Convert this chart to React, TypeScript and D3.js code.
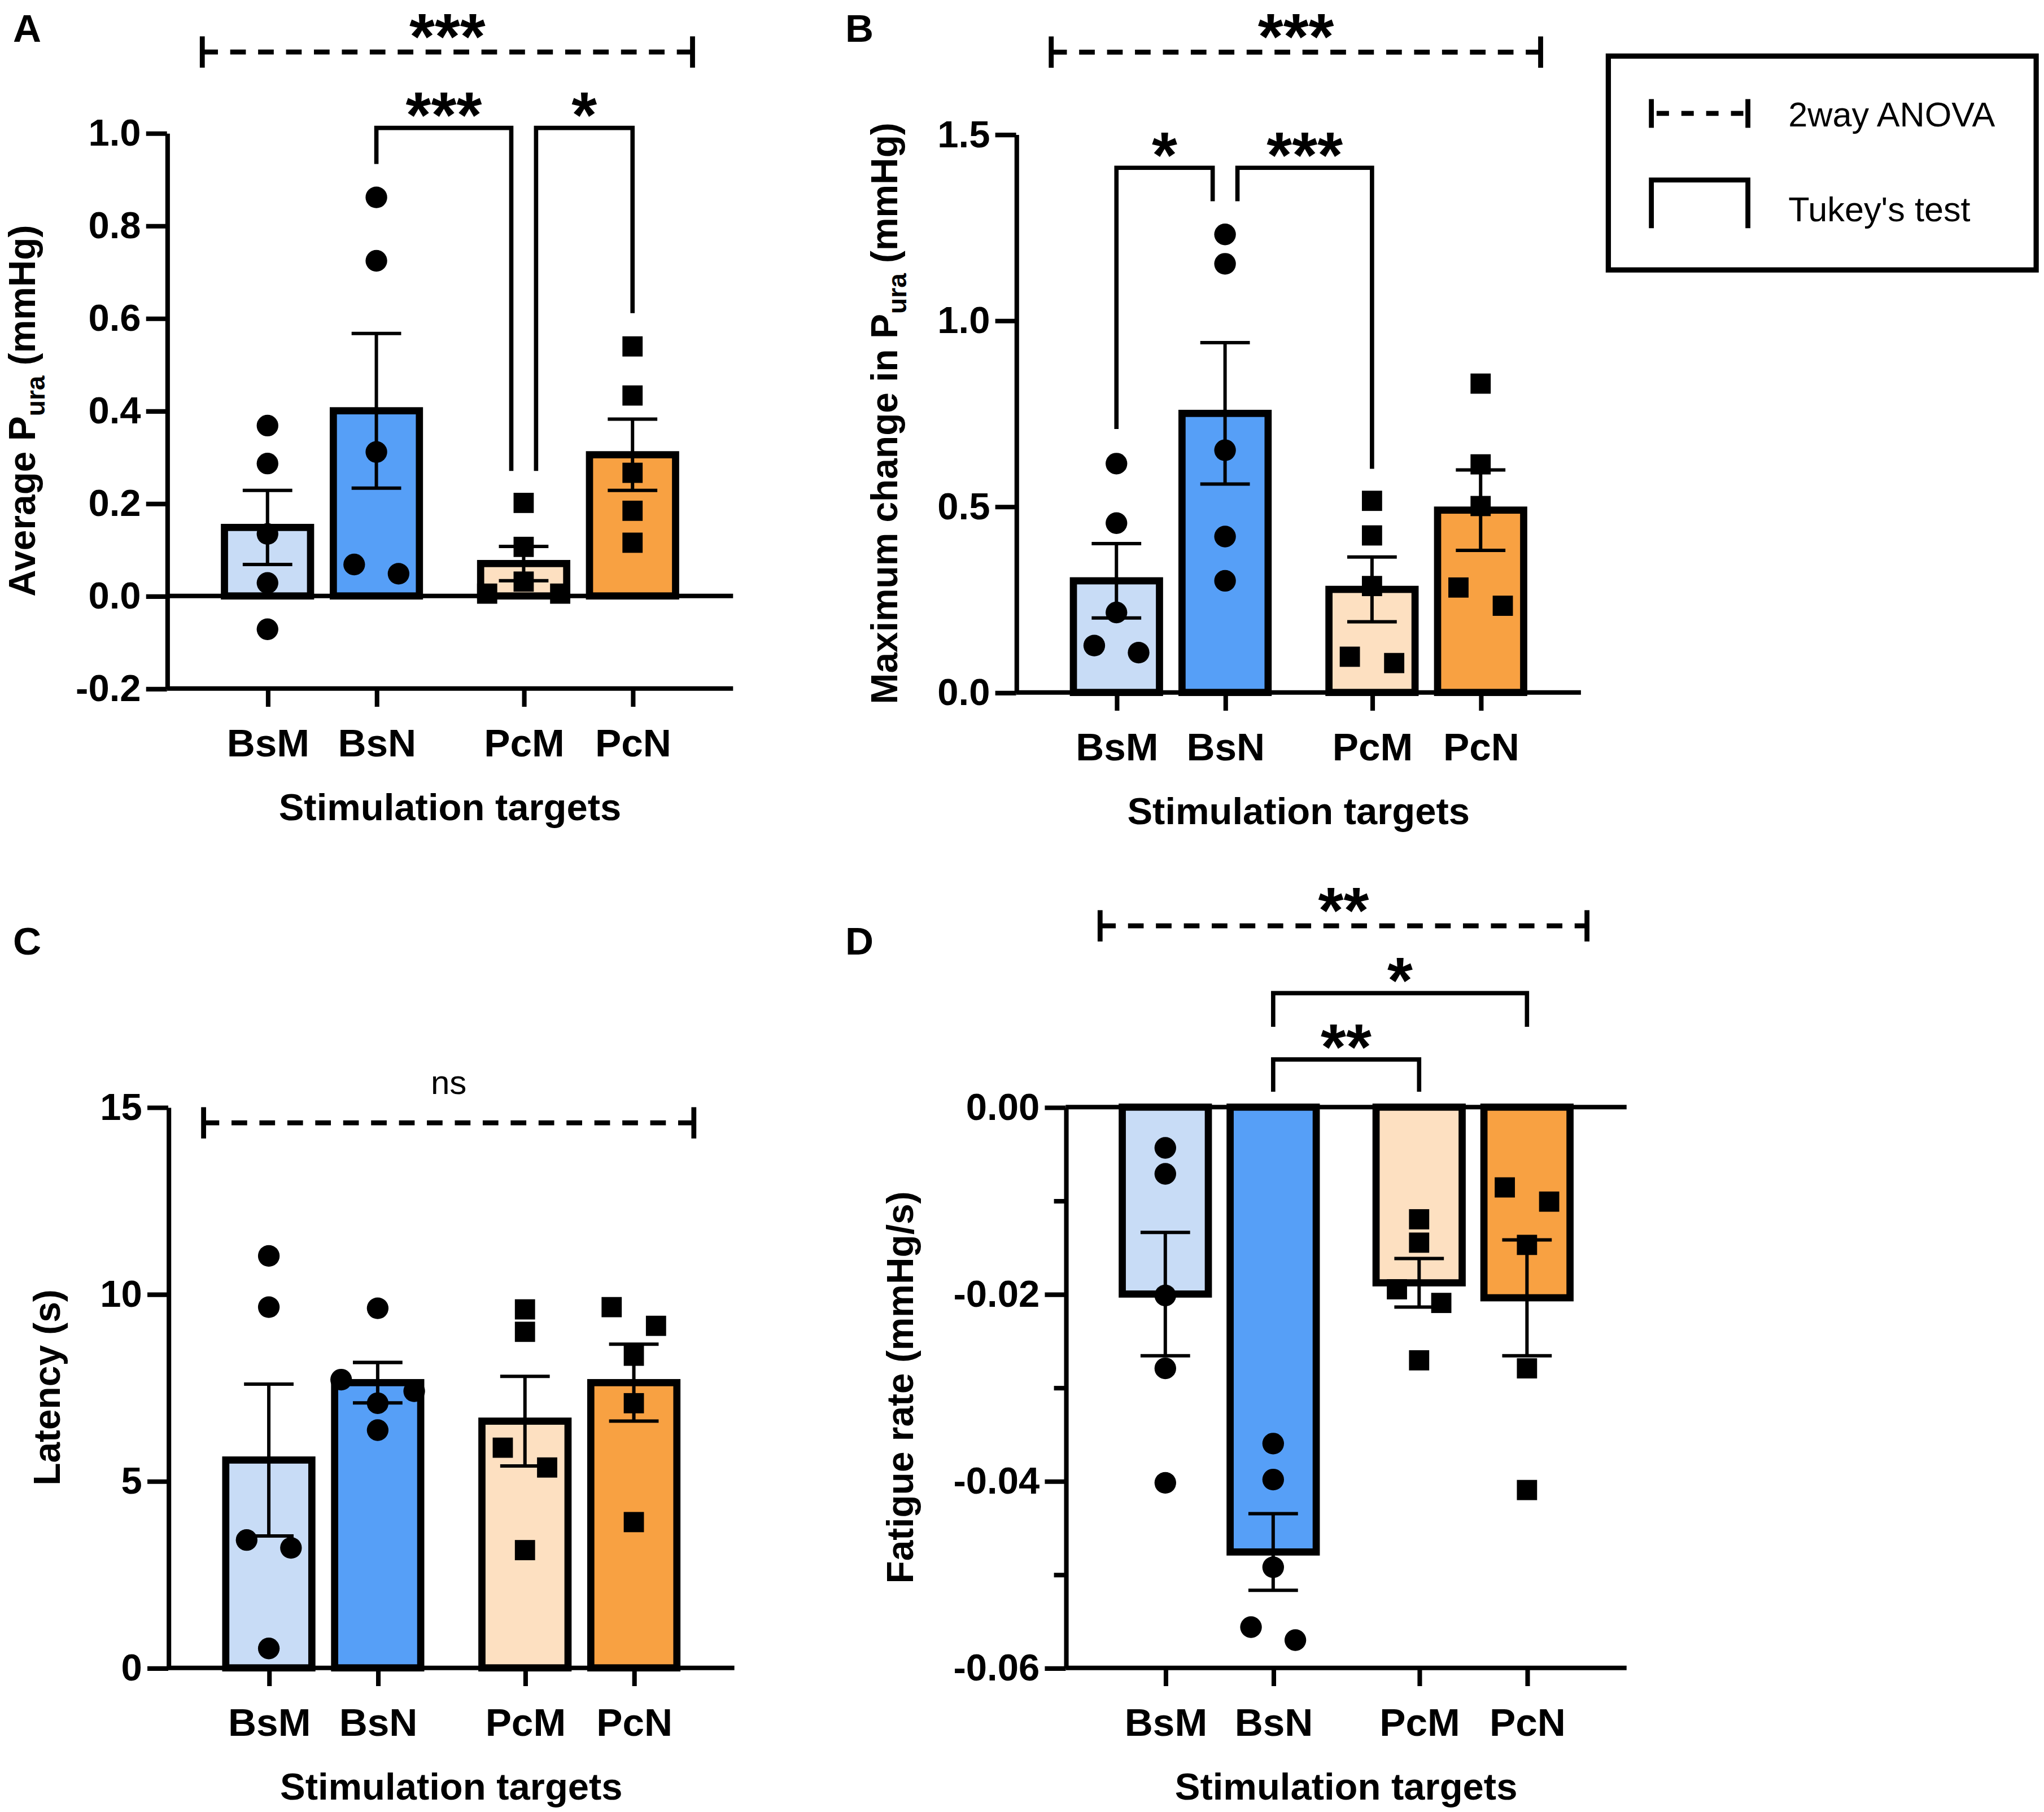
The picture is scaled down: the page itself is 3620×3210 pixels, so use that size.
import React, { useEffect, useRef } from 'react';
import * as d3 from 'd3';

// ---- shared categories ----
const categories = ['BsM', 'BsN', 'PcM', 'PcN'];
const barColors = ['#c8dcf6', '#569ff7', '#fde0c1', '#f8a142'];
const markers = ['circle', 'circle', 'square', 'square'];

// ---- A: average Pura ----
const avgPuraMean = [0.148, 0.4, 0.07, 0.305];
const avgPuraSem = [0.08, 0.167, 0.037, 0.077];
const avgPuraPoints = [
  [0.368, 0.286, 0.134, 0.028, -0.072],
  [0.861, 0.724, 0.311, 0.068, 0.048],
  [0.201, 0.106, 0.031, 0.005, 0.005],
  [0.539, 0.433, 0.266, 0.184, 0.115],
];
const avgPuraTicks = [-0.2, 0, 0.2, 0.4, 0.6, 0.8, 1.0];
const avgPuraAnova = { label: '***', y: 1.175 };
const avgPuraTukey = [
  { from: 1, to: 2, label: '***', top: 1.011, legFrom: 0.933, legTo: 0.27 },
  { from: 2, to: 3, label: '*', top: 1.011, legFrom: 0.27, legTo: 0.611 },
];

// ---- B: maximum change in Pura ----
const maxChangeMean = [0.3, 0.75, 0.277, 0.49];
const maxChangeSem = [0.1, 0.19, 0.087, 0.108];
const maxChangePoints = [
  [0.615, 0.455, 0.215, 0.126, 0.107],
  [1.231, 1.152, 0.651, 0.419, 0.3],
  [0.515, 0.422, 0.286, 0.096, 0.079],
  [0.83, 0.613, 0.501, 0.282, 0.233],
];
const maxChangeTicks = [0, 0.5, 1.0, 1.5];
const maxChangeAnova = { label: '***', y: 1.721 };
const maxChangeTukey = [
  { from: 0, to: 1, label: '*', top: 1.41, legFrom: 0.708, legTo: 1.32 },
  { from: 1, to: 2, label: '***', top: 1.41, legFrom: 1.32, legTo: 0.601 },
];

// ---- C: latency ----
const latencyMean = [5.56, 7.63, 6.6, 7.63];
const latencySem = [2.03, 0.54, 1.2, 1.03];
const latencyPoints = [
  [11.02, 9.65, 3.42, 3.21, 0.52],
  [9.62, 7.71, 7.4, 7.08, 6.36],
  [9.59, 8.99, 5.89, 5.36, 3.15],
  [9.65, 9.15, 8.35, 7.08, 3.9],
];
const latencyTicks = [0, 5, 10, 15];
const latencyAnova = { label: 'ns', y: 14.58 };

// ---- D: fatigue rate ----
const fatigueMean = [-0.02, -0.0476, -0.0188, -0.0204];
const fatigueSem = [0.0066, 0.0041, 0.0026, 0.0062];
const fatiguePoints = [
  [-0.00436, -0.00714, -0.02015, -0.02795, -0.0402],
  [-0.036, -0.03985, -0.04923, -0.05564, -0.05703],
  [-0.012, -0.0145, -0.01949, -0.02095, -0.02709],
  [-0.00859, -0.01011, -0.01474, -0.02795, -0.04097],
];
const fatigueTicks = [0, -0.02, -0.04, -0.06];
const fatigueMinorTicks = [-0.01, -0.03, -0.05];
const fatigueAnova = { label: '**', y: 0.0194 };
const fatigueTukey = [
  { from: 1, to: 3, label: '*', top: 0.0122, legFrom: 0.0086, legTo: 0.0086 },
  { from: 1, to: 2, label: '**', top: 0.0051, legFrom: 0.00165, legTo: 0.00165 },
];

const legendItems = ['2way ANOVA', "Tukey's test"];
const xTitle = 'Stimulation targets';

type Tukey = { from: number; to: number; label: string; top: number; legFrom: number; legTo: number };

const panels = [
  {
    letter: 'A', mean: avgPuraMean, sem: avgPuraSem, points: avgPuraPoints, ticks: avgPuraTicks, minor: [] as number[],
    domain: [-0.2, 1.0], digits: 1, title: ['Average P', 'ura', ' (mmHg)'], anova: avgPuraAnova, tukey: avgPuraTukey as Tukey[],
    box: { x0: 128, x1: 562, yTop: 102, yBottom: 528, lx: 10, ly: 32 },
  },
  {
    letter: 'B', mean: maxChangeMean, sem: maxChangeSem, points: maxChangePoints, ticks: maxChangeTicks, minor: [] as number[],
    domain: [0, 1.5], digits: 1, title: ['Maximum change in P', 'ura', ' (mmHg)'], anova: maxChangeAnova, tukey: maxChangeTukey as Tukey[],
    box: { x0: 779, x1: 1212, yTop: 103, yBottom: 531, lx: 648, ly: 32 },
  },
  {
    letter: 'C', mean: latencyMean, sem: latencySem, points: latencyPoints, ticks: latencyTicks, minor: [] as number[],
    domain: [0, 15], digits: 0, title: ['Latency (s)'], anova: latencyAnova, tukey: [] as Tukey[],
    box: { x0: 129, x1: 563, yTop: 849, yBottom: 1279, lx: 10, ly: 732 },
  },
  {
    letter: 'D', mean: fatigueMean, sem: fatigueSem, points: fatiguePoints, ticks: fatigueTicks, minor: fatigueMinorTicks,
    domain: [-0.06, 0], digits: 2, title: ['Fatigue rate (mmHg/s)'], anova: fatigueAnova, tukey: fatigueTukey as Tukey[],
    box: { x0: 817, x1: 1247, yTop: 849, yBottom: 1279, lx: 648, ly: 732 },
  },
];

const W = 3620;
const H = 3210;
const VB_W = 1567;
const VB_H = (H * VB_W) / W;
const FONT = "'Liberation Sans', Arial, Helvetica, sans-serif";
const STAR_SIZE = 50;

// spread overlapping points sideways, roughly like Prism does
function swarmOffsets(values: number[], py: (v: number) => number, size: number, pair: number, triple: number) {
  const order = d3.range(values.length).sort((a, b) => py(values[a]) - py(values[b]));
  const clusters: number[][] = [];
  order.forEach((i, k) => {
    if (k > 0 && Math.abs(py(values[i]) - py(values[order[k - 1]])) < size) clusters[clusters.length - 1].push(i);
    else clusters.push([i]);
  });
  const off = values.map(() => 0);
  clusters.forEach(c => {
    if (c.length === 2) {
      off[c[0]] = -pair;
      off[c[1]] = pair;
    } else if (c.length === 3) {
      const gTop = Math.abs(py(values[c[1]]) - py(values[c[0]]));
      const gBot = Math.abs(py(values[c[2]]) - py(values[c[1]]));
      const [mid, a, b] = gTop >= gBot ? [c[0], c[1], c[2]] : [c[2], c[0], c[1]];
      off[mid] = 0;
      off[a] = -triple;
      off[b] = triple;
    } else if (c.length > 3) {
      c.forEach((i, k) => { off[i] = (k - (c.length - 1) / 2) * pair; });
    }
  });
  return off;
}

const App: React.FC = () => {
  const svgRef = useRef<SVGSVGElement>(null);

  useEffect(() => {
    if (!svgRef.current) return;
    const svg = d3.select(svgRef.current);
    svg.selectAll('*').remove();
    svg.append('rect').attr('width', VB_W).attr('height', VB_H).attr('fill', 'white');

    // asterisks: y is where the glyph centre should sit
    const stars = (g: d3.Selection<SVGGElement, unknown, null, undefined>, x: number, yc: number, label: string) =>
      g.append('text').attr('x', x).attr('y', yc + STAR_SIZE * 0.575).attr('text-anchor', 'middle')
        .attr('font-size', STAR_SIZE).attr('font-weight', 'bold').text(label);

    panels.forEach(p => {
      const b = p.box;
      const g = svg.append('g').attr('font-family', FONT);
      const fmt = (v: number) => v.toFixed(p.digits);

      const y = d3.scaleLinear().domain(p.domain).range([b.yBottom, b.yTop]);
      const outer = d3.scaleBand<string>()
        .domain(Array.from(new Set(categories.map(c => c.slice(0, 2)))))
        .range([b.x0, b.x1]).paddingInner(0.15).paddingOuter(0.18);
      const inner = d3.scaleBand<string>()
        .domain(Array.from(new Set(categories.map(c => c.slice(2)))))
        .range([0, outer.bandwidth()]);
      const xc = (i: number) =>
        (outer(categories[i].slice(0, 2)) || 0) + (inner(categories[i].slice(2)) || 0) + inner.bandwidth() / 2;

      // panel letter
      g.append('text').attr('x', b.lx).attr('y', b.ly).attr('font-size', 30).attr('font-weight', 'bold').text(p.letter);

      // bars
      categories.forEach((c, i) => {
        const y0 = y(0);
        const y1 = y(p.mean[i]);
        g.append('rect')
          .attr('x', xc(i) - 33).attr('width', 66)
          .attr('y', Math.min(y0, y1)).attr('height', Math.abs(y1 - y0))
          .attr('fill', barColors[i]).attr('stroke', '#000').attr('stroke-width', 5.5);
      });

      // y axis
      const yAxis = g.append('g').attr('transform', `translate(${b.x0},0)`)
        .call(d3.axisLeft(y).tickValues(p.ticks).tickSize(16).tickSizeOuter(0).tickPadding(4).tickFormat(d => fmt(+d)));
      yAxis.select('.domain').attr('stroke-width', 3.5);
      yAxis.selectAll('.tick line').attr('stroke-width', 3.5);
      yAxis.selectAll('.tick text').attr('font-size', 29).attr('font-weight', 'bold').attr('font-family', FONT).attr('fill', '#000');
      if (p.minor.length) {
        const m = g.append('g').attr('transform', `translate(${b.x0},0)`)
          .call(d3.axisLeft(y).tickValues(p.minor).tickSize(9).tickSizeOuter(0).tickFormat(() => ''));
        m.select('.domain').remove();
        m.selectAll('.tick line').attr('stroke-width', 3.5);
      }

      // x axis line, zero line
      g.append('line').attr('x1', b.x0).attr('x2', b.x1).attr('y1', b.yBottom).attr('y2', b.yBottom)
        .attr('stroke', '#000').attr('stroke-width', 3.5);
      if (y(0) !== b.yBottom) {
        g.append('line').attr('x1', b.x0).attr('x2', b.x1).attr('y1', y(0)).attr('y2', y(0))
          .attr('stroke', '#000').attr('stroke-width', 3.5);
      }
      const xOrd = d3.scaleOrdinal<string, number>().domain(categories).range(categories.map((_, i) => xc(i)));
      const xAxis = g.append('g').attr('transform', `translate(0,${b.yBottom})`)
        .call(d3.axisBottom(xOrd as any).tickSize(14).tickSizeOuter(0));
      xAxis.select('.domain').remove();
      xAxis.selectAll('.tick line').attr('stroke-width', 3.5);
      xAxis.selectAll('.tick text').attr('y', 52).attr('dy', null)
        .attr('font-size', 30).attr('font-weight', 'bold').attr('font-family', FONT).attr('fill', '#000');

      g.append('text').attr('x', (b.x0 + b.x1) / 2).attr('y', b.yBottom + 101)
        .attr('text-anchor', 'middle').attr('font-size', 29).attr('font-weight', 'bold').text(xTitle);

      // y title, placed left of the widest tick label
      const bb = (yAxis.node() as SVGGElement).getBBox();
      const tx = b.x0 + bb.x - 31;
      const ty = (b.yTop + b.yBottom) / 2;
      const t = g.append('text').attr('transform', `translate(${tx},${ty}) rotate(-90)`)
        .attr('text-anchor', 'middle').attr('font-size', 28.5).attr('font-weight', 'bold');
      if (p.title.length === 3) {
        t.append('tspan').text(p.title[0]);
        t.append('tspan').attr('font-size', 20).attr('dy', 7).text(p.title[1]);
        t.append('tspan').attr('dy', -7).text(p.title[2]);
      } else {
        t.text(p.title[0]);
      }

      // error bars (mean ± SEM)
      categories.forEach((c, i) => {
        const lo = y(p.mean[i] - p.sem[i]);
        const hi = y(p.mean[i] + p.sem[i]);
        const x = xc(i);
        const eg = g.append('g').attr('stroke', '#000').attr('stroke-width', 2.6);
        eg.append('line').attr('x1', x).attr('x2', x).attr('y1', lo).attr('y2', hi);
        eg.append('line').attr('x1', x - 19).attr('x2', x + 19).attr('y1', lo).attr('y2', lo);
        eg.append('line').attr('x1', x - 19).attr('x2', x + 19).attr('y1', hi).attr('y2', hi);
      });

      // individual points
      categories.forEach((c, i) => {
        const vals = p.points[i];
        const off = swarmOffsets(vals, y, 16, 17, 28);
        vals.forEach((v, k) => {
          const cx = xc(i) + off[k];
          const cy = y(v);
          if (markers[i] === 'circle') {
            g.append('circle').attr('cx', cx).attr('cy', cy).attr('r', 8.3).attr('fill', '#000');
          } else {
            g.append('rect').attr('x', cx - 7.75).attr('y', cy - 7.75).attr('width', 15.5).attr('height', 15.5).attr('fill', '#000');
          }
        });
      });

      // 2-way ANOVA dashed bracket
      const ay = y(p.anova.y);
      const ax0 = xc(0) - 50;
      const ax1 = xc(categories.length - 1) + 46;
      g.append('line').attr('x1', ax0).attr('x2', ax1).attr('y1', ay).attr('y2', ay)
        .attr('stroke', '#000').attr('stroke-width', 3.8).attr('stroke-dasharray', '12 9.4');
      [ax0, ax1].forEach(x => {
        g.append('line').attr('x1', x).attr('x2', x).attr('y1', ay - 12).attr('y2', ay + 12)
          .attr('stroke', '#000').attr('stroke-width', 3.8);
      });
      if (p.anova.label === 'ns') {
        g.append('text').attr('x', (ax0 + ax1) / 2).attr('y', ay - 22).attr('text-anchor', 'middle')
          .attr('font-size', 26).text(p.anova.label);
      } else {
        stars(g, (ax0 + ax1) / 2, ay - 23.5, p.anova.label);
      }

      // Tukey brackets
      p.tukey.forEach((tk, i) => {
        let xa = xc(tk.from);
        let xb = xc(tk.to);
        if (p.tukey.some((o, j) => j !== i && o.from === tk.to && o.top === tk.top)) xb -= 9.5;
        if (p.tukey.some((o, j) => j !== i && o.to === tk.from && o.top === tk.top)) xa += 9.5;
        const top = y(tk.top);
        g.append('path')
          .attr('d', `M${xa},${y(tk.legFrom)}V${top}H${xb}V${y(tk.legTo)}`)
          .attr('fill', 'none').attr('stroke', '#000').attr('stroke-width', 3.3);
        stars(g, (xa + xb) / 2, top - 21.5, tk.label);
      });
    });

    // legend
    const lg = svg.append('g').attr('font-family', FONT);
    lg.append('rect').attr('x', 1233).attr('y', 43).attr('width', 328).attr('height', 164)
      .attr('fill', 'none').attr('stroke', '#000').attr('stroke-width', 4);
    const sx0 = 1266;
    const sx1 = 1340;
    lg.append('line').attr('x1', sx0).attr('x2', sx1).attr('y1', 87).attr('y2', 87)
      .attr('stroke', '#000').attr('stroke-width', 3.8).attr('stroke-dasharray', '9.5 9.5').attr('stroke-dashoffset', -4);
    [sx0, sx1].forEach(x => {
      lg.append('line').attr('x1', x).attr('x2', x).attr('y1', 76).attr('y2', 98).attr('stroke', '#000').attr('stroke-width', 3.8);
    });
    lg.append('path').attr('d', `M${sx0},175V138H${sx1}V175`).attr('fill', 'none').attr('stroke', '#000').attr('stroke-width', 3.8);
    legendItems.forEach((txt, i) => {
      lg.append('text').attr('x', 1371).attr('y', 97 + i * 72.5).attr('font-size', 26.5).text(txt);
    });
  }, []);

  return (
    <svg
      ref={svgRef}
      width={W}
      height={H}
      viewBox={`0 0 ${VB_W} ${VB_H}`}
      style={{ position: 'absolute', left: 0, top: 0, display: 'block' }}
    />
  );
};

export default App;
